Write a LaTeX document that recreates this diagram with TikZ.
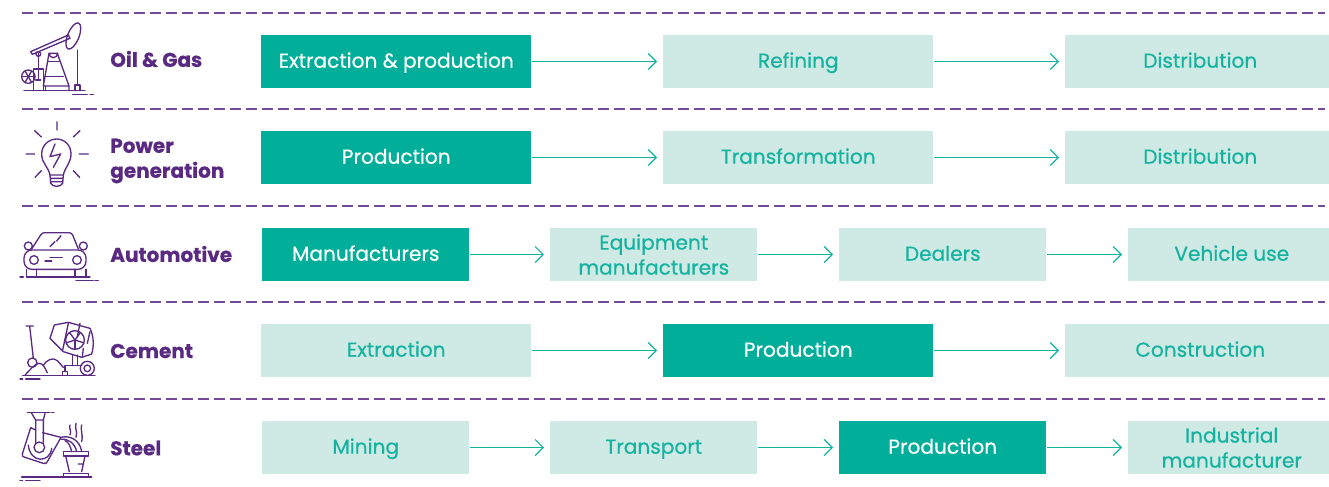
\documentclass[tikz,border=0pt]{standalone}
\usepackage{fontspec}
\setmainfont{Poppins}[BoldFeatures={FakeBold=0.6}]
\newfontfamily\boxfont{Poppins}[FakeBold=0.5]
\usetikzlibrary{arrows.meta}
\definecolor{dk}{HTML}{00AE9A}
\definecolor{lt}{HTML}{CFE9E4}
\definecolor{tg}{HTML}{14B3A0}
\definecolor{pu}{HTML}{5A2A82}
\tikzset{
 x=0.75pt,y=-0.75pt,
 boxbase/.style={minimum height=39.75pt,inner sep=0pt,align=center,font=\boxfont\fontsize{15.1}{18.75}\selectfont,anchor=west,text height=12.6pt,text depth=3.3pt},
 hot/.style={boxbase,fill=dk,text=white},
 cold/.style={boxbase,fill=lt,text=tg},
 twolines/.style={text height={},text depth={}},
 wa/.style={minimum width=202.5pt},
 wb/.style={minimum width=155.25pt},
 conn/.style={draw=tg,line width=0.9pt,shorten >=4.5pt,-{Straight Barb[length=6pt,width=12pt,line width=0.9pt]}},
 rowlabel/.style={font=\fontsize{15}{18.75}\selectfont\bfseries,text=pu,anchor=west,align=left,inner sep=0pt},
 sep/.style={draw=pu!85,line width=0.9pt,dash pattern=on 8.2pt off 3.8pt},
 icon/.style={draw=pu,line width=1pt,line cap=round,line join=round,x=0.25pt,y=-0.25pt},
}
\begin{document}
\begin{tikzpicture}
\useasboundingbox (0,0) rectangle (1329,486);
% separators
\foreach \n/\yy in {1/13,2/109,3/206,4/302,5/399}{
 \coordinate (sl\n) at (22,\yy);
 \coordinate (sr\n) at (1325,\yy);
 \draw[sep] (sl\n) -- (sr\n);
}
% row labels
\node[rowlabel] (l1) at (110,59) {Oil \& Gas};
\node[rowlabel] (l2) at (110,161) {Power\\generation};
\node[rowlabel] (l3) at (110,254) {Automotive};
\node[rowlabel] (l4) at (110,351) {Cement};
\node[rowlabel] (l5) at (110,448) {Steel};
% row 1
\node[hot,wa] (a1) at (261,61.5) {Extraction \& production};
\node[cold,wa] (a2) at (663,61.5) {Refining};
\node[cold,wa] (a3) at (1065,61.5) {Distribution};
\draw[conn] (a1) -- (a2);
\draw[conn] (a2) -- (a3);
% row 2
\node[hot,wa] (b1) at (261,157.5) {Production};
\node[cold,wa] (b2) at (663,157.5) {Transformation};
\node[cold,wa] (b3) at (1065,157.5) {Distribution};
\draw[conn] (b1) -- (b2);
\draw[conn] (b2) -- (b3);
% row 3
\node[hot,wb] (c1) at (262,254.5) {Manufacturers};
\node[cold,wb,twolines] (c2) at (550,254.5) {Equipment\\manufacturers};
\node[cold,wb] (c3) at (839,254.5) {Dealers};
\node[cold,wb] (c4) at (1128,254.5) {Vehicle use};
\draw[conn] (c1) -- (c2);
\draw[conn] (c2) -- (c3);
\draw[conn] (c3) -- (c4);
% row 4
\node[cold,wa] (d1) at (261,350.5) {Extraction};
\node[hot,wa] (d2) at (663,350.5) {Production};
\node[cold,wa] (d3) at (1065,350.5) {Construction};
\draw[conn] (d1) -- (d2);
\draw[conn] (d2) -- (d3);
% row 5
\node[cold,wb] (e1) at (262,447.5) {Mining};
\node[cold,wb] (e2) at (550,447.5) {Transport};
\node[hot,wb] (e3) at (839,447.5) {Production};
\node[cold,wb,twolines] (e4) at (1128,447.5) {Industrial\\manufacturer};
\draw[conn] (e1) -- (e2);
\draw[conn] (e2) -- (e3);
\draw[conn] (e3) -- (e4);
% oil icon
\begin{scope}[icon]
 \draw (72,272)--(255,272) (218,283)--(262,283) (270,283)--(280,283);
 \draw (92,155)--(205,105)--(210,115)--(97,163)--cycle;
 \draw[rotate around={-22:(220,108)}] (220,108) ellipse (17 and 42);
 \draw (232,150)--(232,255) (225,272)--(225,255)--(240,255)--(240,272);
 \draw (130,258)--(147,160) (172,160)--(207,258) (130,258)--(207,258)--(207,272);
 \draw (147,160) arc (180:0:13) --cycle;
 \draw (143,185)--(178,185) (135,230)--(190,230) (137,258)--(137,272);
 \draw (115,160)--(115,207) (107,240)--(122,240) (115,207)--(115,240);
 \draw (115,162) circle (7);
 \draw (100,272)--(100,207)--(130,207)--(130,272);
 \draw (85,230) circle (20);
 \foreach \a in {0,60,120}{\draw (85,230) ++(\a:20) -- ++(\a+180:40);}
\end{scope}
% bulb icon
\begin{scope}[icon]
 \draw (171,365)--(171,390) (104,392)--(124,411) (240,392)--(220,411) (78,462)--(104,462)
  (238,462)--(265,462) (105,532)--(124,512) (239,532)--(220,512);
 \draw (150,525) .. controls (145,500) and (125,490) .. (125,462) .. controls (125,435) and (147,417) .. (170,417)
  .. controls (193,417) and (213,435) .. (213,462) .. controls (213,490) and (195,500) .. (190,525) -- cycle;
 \draw (152,535)--(188,535) (152,545)--(188,545) (150,525)--(152,550) (190,525)--(188,550);
 \draw (152,550) .. controls (160,562) and (180,562) .. (188,550);
 \draw (165,432)--(150,470)--(182,462)--(160,502);
\end{scope}
% car icon
\begin{scope}[icon,yshift=-150pt]
 \draw[rounded corners=6pt] (72,150) rectangle (258,208);
 \draw (95,147)--(122,105) .. controls (126,99) and (130,98) .. (135,98) -- (205,98) .. controls (212,98) and (215,100) .. (218,105) -- (235,147);
 \draw (85,138) circle (12) (250,138) circle (12);
 \draw (102,180) circle (13) (231,180) circle (13);
 \draw (150,173)--(187,173) (135,183)--(155,183);
 \draw (150,140)--(165,125) (170,123)--(183,107);
 \draw (80,208)--(80,231) (110,208)--(110,231) (225,208)--(225,231) (258,208)--(258,231);
 \draw (60,231)--(70,231) (80,231)--(270,231) (228,241)--(280,241) (285,241)--(295,241);
\end{scope}
% cement icon
\begin{scope}[icon,yshift=-150pt]
 \draw (68,527)--(285,527) (60,537)--(68,537) (77,537)--(120,537);
 \draw (78,378)--(100,378) (89,378)--(100,475);
 \draw (97,488) circle (14);
 \draw (75,525) .. controls (90,510) and (105,490) .. (118,490) .. controls (130,490) and (135,505) .. (142,518);
 \draw (130,495) .. controls (140,480) and (160,470) .. (172,482) -- (190,502);
 \draw (150,415)--(163,375)--(205,367)--(270,385) .. controls (282,410) and (282,440) .. (275,462)--(245,472)--(190,455)--cycle;
 \draw (225,420) circle (28);
 \foreach \a in {18,90,162,234,306}{\draw (225,420) -- ++(\a:28);}
 \draw (205,370)--(188,450) (240,370)--(232,410) (270,395)--(262,430) (250,445)--(247,470);
 \draw (218,465)--(218,497) (233,465)--(233,497) (195,497)--(245,497) (195,497)--(195,515);
 \draw (188,515) rectangle (202,527);
 \draw (262,505) circle (21) (262,505) circle (10);
\end{scope}
% steel icon
\begin{scope}[icon,yshift=-150pt]
 \draw (82,638)--(150,638) (155,638)--(162,638);
 \draw (95,640)--(107,660)--(107,728) (135,640)--(130,660)--(130,728) (107,660)--(130,660);
 \draw (118,742) circle (16);
 \draw (92,683)--(67,762) .. controls (66,768) and (68,770) .. (72,771) -- (130,790) .. controls (136,792) and (140,790) .. (142,785) -- (183,712) -- (128,698) (107,690)--(92,683);
 \draw (85,735) .. controls (90,790) and (150,790) .. (155,745);
 \draw (183,712) .. controls (210,705) and (240,720) .. (245,755);
 \draw (183,718) .. controls (205,715) and (225,730) .. (230,755);
 \draw (195,722) .. controls (205,725) and (212,740) .. (215,755);
 \draw (210,675) .. controls (205,685) and (216,690) .. (210,705);
 \draw (228,670) .. controls (223,685) and (234,695) .. (228,712);
 \draw (245,675) .. controls (240,690) and (250,700) .. (245,725);
 \draw (190,755) rectangle (265,768);
 \draw (197,768)--(208,815) (255,768)--(245,815) (235,792)--(250,792);
 \draw (190,831)--(190,820)--(265,820)--(265,831);
 \draw (65,831)--(275,831) (60,842)--(68,842) (77,842)--(120,842);
\end{scope}
\end{tikzpicture}
\end{document}
